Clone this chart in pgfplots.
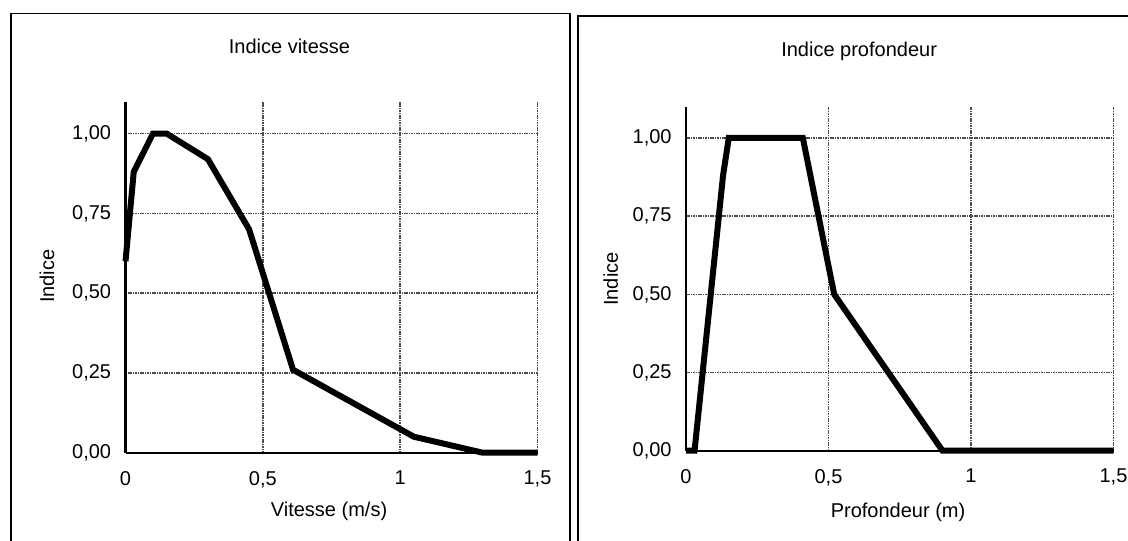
\documentclass[border=0pt]{standalone}
\usepackage{fontspec}
\setmainfont{Liberation Sans}
\usepackage{pgfplots}
\pgfplotsset{compat=1.18}
\pgfplotstableread{
x y
0.00 0.60
0.03 0.88
0.10 1.00
0.15 1.00
0.30 0.92
0.45 0.70
0.61 0.26
1.05 0.05
1.30 0.00
1.50 0.00
}\vitesse
\pgfplotstableread{
x y
0.00 0.00
0.03 0.00
0.13 0.88
0.15 1.00
0.41 1.00
0.52 0.50
0.90 0.00
1.50 0.00
}\profondeur
\pgfplotsset{
  panel/.style={
    scale only axis,
    xmin=0, xmax=1.5, ymin=0, ymax=1.1,
    axis x line*=bottom, axis y line*=left,
    axis line style={line width=1.1pt, black},
    xtick={0,0.5,1,1.5}, xticklabels={0,{0,5},1,{1,5}},
    ytick={0,0.25,0.5,0.75,1}, yticklabels={{0,00},{0,25},{0,50},{0,75},{1,00}},
    major tick length=0pt,
    grid=major,
    major grid style={black!70, line width=0.75pt, dash pattern=on 0.8pt off 0.4pt},
    tick label style={font=\fontsize{10}{12}\selectfont},
    xticklabel style={anchor=north, inner sep=0pt, yshift=-9pt},
    yticklabel style={anchor=east, inner sep=0pt, xshift=-7pt},
    label style={font=\fontsize{10}{12}\selectfont},
    every axis title shift=0pt,
    title style={font=\fontsize{10}{12}\selectfont, anchor=center, inner sep=0pt},
    clip=false,
    anchor=south west,
  },
  curve/.style={black, line width=3pt, line join=miter, no markers},
}
\begin{document}
\begin{tikzpicture}
\clip (0,0) rectangle (564pt,270pt);
\draw[line width=0.7pt] (5.5pt,-10pt) rectangle (285pt,263.25pt);
\draw[line width=0.7pt] (289pt,-10pt) rectangle (580pt,262pt);
\begin{axis}[panel,
  at={(62.75pt,43.65pt)}, width=206pt, height=175.5pt,
  title={Indice vitesse},
  title style={at={(axis description cs:0.398,1.157)}},
  xlabel={Vitesse (m/s)},
  xlabel style={at={(axis description cs:0.494,-0.166)}, anchor=center},
  ylabel={Indice},
  ylabel style={at={(axis description cs:-0.1905,0.503)}, anchor=center},
]
\addplot[curve] table[x=x,y=y] {\vitesse};
\end{axis}
\begin{axis}[panel,
  at={(343pt,44.65pt)}, width=213.75pt, height=172pt,
  title={Indice profondeur},
  title style={at={(axis description cs:0.405,1.162)}},
  xlabel={Profondeur (m)},
  xlabel style={at={(axis description cs:0.496,-0.178)}, anchor=center},
  ylabel={Indice},
  ylabel style={at={(axis description cs:-0.176,0.499)}, anchor=center},
]
\addplot[curve] table[x=x,y=y] {\profondeur};
\end{axis}
\end{tikzpicture}
\end{document}
